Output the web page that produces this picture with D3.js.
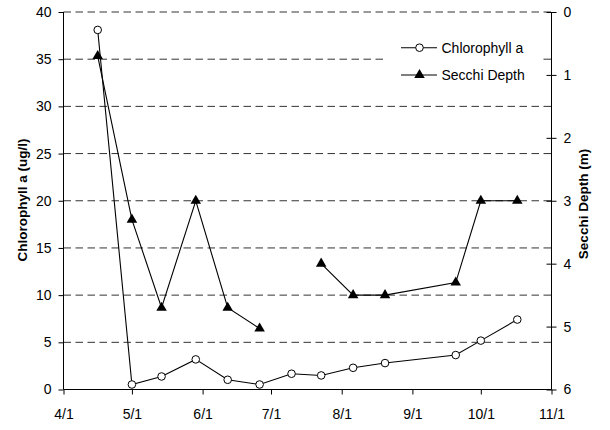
<!DOCTYPE html>
<html>
<head>
<meta charset="utf-8">
<script src="https://cdn.jsdelivr.net/npm/d3@7"></script>
<style>
  body { margin: 0; background: #fff; }
  svg { display: block; font-family: "Liberation Sans", Arial, sans-serif; }
</style>
</head>
<body>
<svg id="chart" width="610" height="430"></svg>
<script>
// ---- data ----
const sampleDates = ["4/16","5/1","5/14","5/29","6/12","6/26","7/10","7/23","8/6","8/20","9/20","10/1","10/17"];
const chlorophyll = [38.1, 0.53, 1.38, 3.19, 1.03, 0.53, 1.67, 1.49, 2.30, 2.80, 3.65, 5.18, 7.41];
const secchiDepth = [0.7, 3.3, 4.7, 3.0, 4.7, 5.03, null, 4.0, 4.5, 4.5, 4.3, 3.0, 3.0];
const xTickLabels = ["4/1","5/1","6/1","7/1","8/1","9/1","10/1","11/1"];
const leftTicks = [0, 5, 10, 15, 20, 25, 30, 35, 40];
const rightTicks = [0, 1, 2, 3, 4, 5, 6];
const seriesNames = ["Chlorophyll a", "Secchi Depth"];
const leftTitle = "Chlorophyll a (ug/l)";
const rightTitle = "Secchi Depth (m)";

const YEAR = 2003;
const parseMD = s => { const [m, d] = s.split("/").map(Number); return new Date(YEAR, m - 1, d); };

const svg = d3.select("#chart");
const L = 63.5, R = 551.5, T = 12, B = 389.5;

const x = d3.scaleTime().domain([parseMD("4/1"), parseMD("11/1")]).range([L, R]);
const yL = d3.scaleLinear().domain([0, 40]).range([B, T]);
const yR = d3.scaleLinear().domain([0, 6]).range([T, B]);

// gridlines
svg.append("g").selectAll("line").data(leftTicks.filter(v => v > 0)).join("line")
  .attr("x1", L).attr("x2", R)
  .attr("y1", d => yL(d)).attr("y2", d => yL(d))
  .attr("stroke", "#333").attr("stroke-width", 1)
  .attr("stroke-dasharray", "7.5,4.5");

// legend background (covers gridline)
const legend = svg.append("g");
legend.append("rect").attr("x", 384).attr("y", 24).attr("width", 158).attr("height", 74).attr("fill", "#fff");

// axes
const fontSize = "14px";
const ff = "Liberation Sans, Arial, sans-serif";
const xAxis = d3.axisBottom(x)
  .tickValues(xTickLabels.map(parseMD))
  .tickFormat(d3.timeFormat("%-m/%-d"))
  .tickSize(5).tickPadding(14);
const gx = svg.append("g").attr("transform", `translate(0,${B})`).call(xAxis);
gx.selectAll("text").attr("font-size", fontSize).attr("font-family", ff).attr("fill", "#000").attr("dy", "0.71em").attr("y", 20);

const gl = svg.append("g").attr("transform", `translate(${L},0)`)
  .call(d3.axisLeft(yL).tickValues(leftTicks).tickFormat(d3.format("d")).tickSize(5).tickPadding(7));
gl.selectAll("text").attr("font-size", fontSize).attr("font-family", ff).attr("fill", "#000");

const gr = svg.append("g").attr("transform", `translate(${R},0)`)
  .call(d3.axisRight(yR).tickValues(rightTicks).tickFormat(d3.format("d")).tickSize(5).tickPadding(7));
gr.selectAll(".tick line").attr("x1", -5);
gr.selectAll("text").attr("font-size", fontSize).attr("font-family", ff).attr("fill", "#000");

[gx, gl, gr].forEach(g => {
  g.selectAll("path.domain, line").attr("stroke", "#000").attr("stroke-width", 1);
});
gx.select("path.domain").attr("d", `M${L},0H${R}`);
gl.select("path.domain").attr("d", `M0,${B}V${T}`);
gr.select("path.domain").attr("d", `M0,${B}V${T}`);

// axis titles
svg.append("text").attr("transform", `translate(27,200) rotate(-90)`)
  .attr("text-anchor", "middle").attr("font-size", "13.5px").attr("font-weight", "bold")
  .text(leftTitle);
svg.append("text").attr("transform", `translate(588,204) rotate(-90)`)
  .attr("text-anchor", "middle").attr("font-size", "13.5px").attr("font-weight", "bold")
  .text(rightTitle);

// data
const chl = sampleDates.map((s, i) => ({ date: parseMD(s), v: chlorophyll[i] }));
const sec = sampleDates.map((s, i) => ({ date: parseMD(s), v: secchiDepth[i] }));

const lineL = d3.line().x(d => x(d.date)).y(d => yL(d.v));
const lineR = d3.line().defined(d => d.v !== null).x(d => x(d.date)).y(d => yR(d.v));

svg.append("path").datum(sec).attr("d", lineR).attr("fill", "none").attr("stroke", "#000").attr("stroke-width", 1.1);
svg.append("path").datum(chl).attr("d", lineL).attr("fill", "none").attr("stroke", "#000").attr("stroke-width", 1.1);

const tri = d3.symbol().type(d3.symbolTriangle).size(48);
svg.append("g").selectAll("path").data(sec.filter(d => d.v !== null)).join("path")
  .attr("transform", d => `translate(${x(d.date)},${yR(d.v)})`)
  .attr("d", tri).attr("fill", "#000");

svg.append("g").selectAll("circle").data(chl).join("circle")
  .attr("cx", d => x(d.date)).attr("cy", d => yL(d.v)).attr("r", 3.8)
  .attr("fill", "#fff").attr("stroke", "#000").attr("stroke-width", 1);

// legend items
const rows = [47.7, 75];
seriesNames.forEach((name, i) => {
  const y = rows[i];
  legend.append("line").attr("x1", 401).attr("x2", 437).attr("y1", y).attr("y2", y)
    .attr("stroke", "#000").attr("stroke-width", 1.1);
  if (i === 0) {
    legend.append("circle").attr("cx", 419.5).attr("cy", y).attr("r", 3.8)
      .attr("fill", "#fff").attr("stroke", "#000");
  } else {
    legend.append("path").attr("transform", `translate(419.5,${y})`).attr("d", tri).attr("fill", "#000");
  }
  legend.append("text").attr("x", 441.5).attr("y", y).attr("dy", "0.35em")
    .attr("font-size", fontSize).text(name);
});
</script>
</body>
</html>
